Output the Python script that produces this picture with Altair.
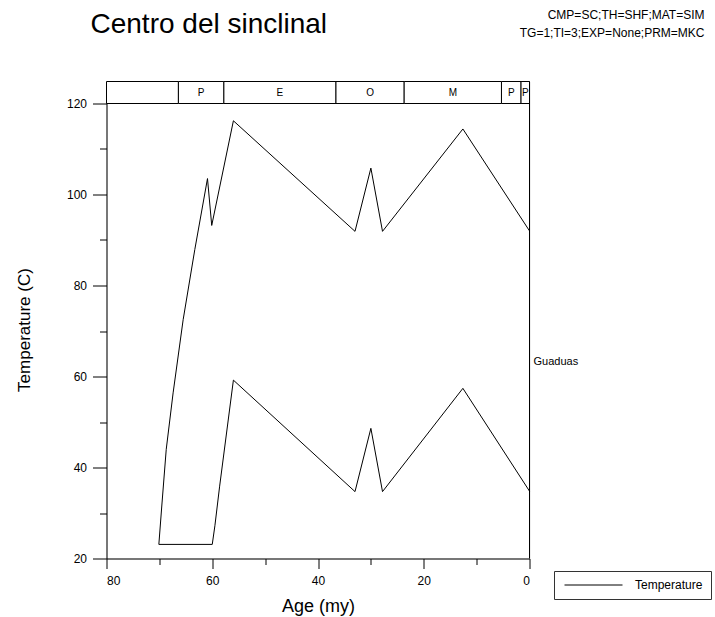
import altair as alt
import pandas as pd

# ---------------- data ----------------
title_text = "Centro del sinclinal"
header_lines = ["CMP=SC;TH=SHF;MAT=SIM", "TG=1;TI=3;EXP=None;PRM=MKC"]
series_name = "Temperature"

# upper temperature curve
upper_age = [70.1, 69.5, 68.7, 67.4, 65.5, 63.3, 60.9, 60.1, 56.0, 33.0, 30.0, 27.8, 12.6, 0.0]
upper_temp = [23.1, 32.2, 44.0, 56.4, 72.5, 87.9, 103.5, 93.2, 116.2, 91.9, 105.8, 91.9, 114.4, 92.0]
# lower temperature curve
lower_age = [70.1, 60.0, 59.5, 58.6, 56.0, 33.0, 30.0, 27.8, 12.6, 0.0]
lower_temp = [23.1, 23.1, 27.2, 35.9, 59.2, 34.7, 48.6, 34.7, 57.4, 34.8]

# geologic time band (my)
epoch_start = [80.0, 66.4, 57.8, 36.6, 23.7, 5.3, 1.6]
epoch_end = [66.4, 57.8, 36.6, 23.7, 5.3, 1.6, 0.0]
epoch_label = ["", "P", "E", "O", "M", "P", "P"]

formation_name = ["Guaduas"]
formation_age = [0.0]
formation_temp = [63.1]

x_ticks = [0, 10, 20, 30, 40, 50, 60, 70, 80]
y_ticks = [20, 30, 40, 50, 60, 70, 80, 90, 100, 110, 120]
present_age = [0.0]

# ---------------- layout ----------------
FONT = "Liberation Sans"
W, H_MAIN, H_BAND = 423, 455, 22
H = H_MAIN + H_BAND
Y_MIN, Y_MAX = 20, 120
Y_TOP = Y_MAX + H_BAND * (Y_MAX - Y_MIN) / H_MAIN

rows = []
for i, (a, t) in enumerate(zip(upper_age, upper_temp)):
    rows.append({"age": a, "temp": t, "curve": "upper", "idx": i, "series": series_name})
for i, (a, t) in enumerate(zip(lower_age, lower_temp)):
    rows.append({"age": a, "temp": t, "curve": "lower", "idx": i, "series": series_name})
df_lines = pd.DataFrame(rows)

df_epochs = pd.DataFrame({"start": epoch_start, "end": epoch_end, "label": epoch_label})
df_form = pd.DataFrame({"age": formation_age, "temp": formation_temp, "name": formation_name})
df_edge = pd.DataFrame({"age": present_age})

xs = alt.Scale(domain=[80, 0], nice=False, zero=False)
ys = alt.Scale(domain=[Y_MIN, Y_TOP], nice=False, zero=False)

common_axis = dict(
    grid=False,
    domainColor="black",
    tickColor="black",
    labelColor="black",
    titleColor="black",
    labelFont=FONT,
    titleFont=FONT,
    titleFontWeight="normal",
    labelFontSize=12,
)

xaxis = alt.Axis(
    title="Age (my)",
    values=x_ticks,
    labelExpr="datum.value % 20 === 0 ? datum.label : ''",
    tickSize={"condition": {"test": "datum.value % 20 === 0", "value": 10}, "value": 6},
    labelPadding=7,
    titleFontSize=18,
    titleY=39,
    **common_axis,
)
yaxis = alt.Axis(
    title="Temperature (C)",
    values=y_ticks,
    labelExpr="datum.value % 20 === 0 ? datum.label : ''",
    tickSize={"condition": {"test": "datum.value % 20 === 0", "value": 14}, "value": 7},
    labelPadding=6,
    titleFontSize=17,
    titleX=-73,
    titleY=248,
    **common_axis,
)

band = alt.Chart(df_epochs).mark_rect(fill="white", stroke="black", strokeWidth=1).encode(
    x=alt.X("start:Q", scale=xs, axis=xaxis),
    x2="end:Q",
    y=alt.YDatum(Y_MAX, scale=ys, axis=yaxis),
    y2=alt.Y2Datum(Y_TOP),
)

band_text = alt.Chart(df_epochs).transform_calculate(
    mid="(datum.start + datum.end) / 2"
).mark_text(font=FONT, fontSize=10, color="black", baseline="middle", align="center").encode(
    x=alt.X("mid:Q", scale=xs, axis=xaxis),
    y=alt.YDatum((Y_MAX + Y_TOP) / 2, scale=ys, axis=yaxis),
    text="label:N",
)

right_edge = alt.Chart(df_edge).mark_rule(color="black", strokeWidth=1).encode(
    x=alt.X("age:Q", scale=xs, axis=xaxis),
    y=alt.YDatum(Y_MIN, scale=ys, axis=yaxis),
    y2=alt.Y2Datum(Y_TOP),
)

lines = alt.Chart(df_lines).mark_line(strokeWidth=1).encode(
    x=alt.X("age:Q", scale=xs, axis=xaxis),
    y=alt.Y("temp:Q", scale=ys, axis=yaxis),
    color=alt.Color(
        "series:N",
        scale=alt.Scale(domain=[series_name], range=["black"]),
        legend=alt.Legend(
            title=None,
            orient="none",
            legendX=447.5,
            legendY=489.5,
            symbolType="M-0.7,0H10.9",
            symbolSize=100,
            symbolStrokeWidth=1,
            symbolStrokeColor="black",
            labelOffset=61,
            padding=8,
            strokeColor="#333",
            fillColor="white",
            labelFont=FONT,
            labelFontSize=12,
            labelColor="black",
        ),
    ),
    detail="curve:N",
    order="idx:Q",
)

form_text = alt.Chart(df_form).mark_text(
    font=FONT, fontSize=11, color="black", align="left", baseline="middle", dx=4
).encode(
    x=alt.X("age:Q", scale=xs, axis=xaxis),
    y=alt.Y("temp:Q", scale=ys, axis=yaxis),
    text="name:N",
)

title_mark = alt.Chart(pd.DataFrame({"t": [title_text]})).mark_text(
    font=FONT, fontSize=28, color="black", align="left", baseline="alphabetic"
).encode(x=alt.value(-16), y=alt.value(-49), text="t:N")

hdr1 = alt.Chart(pd.DataFrame({"t": [header_lines[0]]})).mark_text(
    font=FONT, fontSize=12, color="black", align="right", baseline="middle"
).encode(x=alt.value(598), y=alt.value(-67), text="t:N")
hdr2 = alt.Chart(pd.DataFrame({"t": [header_lines[1]]})).mark_text(
    font=FONT, fontSize=12, color="black", align="right", baseline="middle"
).encode(x=alt.value(598), y=alt.value(-49), text="t:N")

chart = alt.layer(band, band_text, right_edge, lines, form_text, title_mark, hdr1, hdr2).properties(
    width=W,
    height=H,
    autosize="none",
    padding={"left": 106.5, "top": 81.5, "right": 185.5, "bottom": 58.5},
).configure_view(
    stroke="black", strokeWidth=1
).configure_axis(
    grid=False,
    translate=0,
).configure(background="white")

chart.save("out.html", embed_options={"renderer": "svg", "actions": False})
